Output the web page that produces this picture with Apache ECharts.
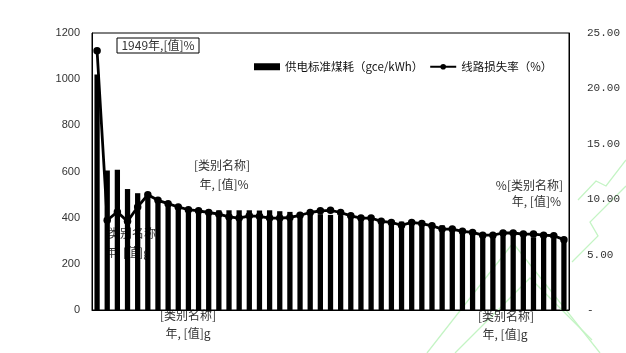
<!DOCTYPE html>
<html><head><meta charset="utf-8">
<script src="https://cdn.jsdelivr.net/npm/echarts@6/dist/echarts.min.js"></script>
<style>html,body{margin:0;padding:0;background:#fff}#c{width:626px;height:353px}</style>
</head><body><div id="c"></div>
<script>
const years = [1949,1952,1957,1962,1965,1970,1975,1978,1980,1981,1982,1983,1984,1985,1986,1987,1988,1989,1990,1991,1992,1993,1994,1995,1996,1997,1998,1999,2000,2001,2002,2003,2004,2005,2006,2007,2008,2009,2010,2011,2012,2013,2014,2015,2016,2017,2018];
const coalUse = [1020,604,608,524,506,508,480,460,445,440,436,434,432,432,432,432,431,432,428,425,421,418,415,412,410,408,404,399,392,386,383,380,376,370,367,356,346,340,334,329,325,321,319,315,312,309,307];
const lineLoss = [23.4,8.1,8.85,8.0,9.3,10.4,9.9,9.6,9.3,9.05,8.95,8.8,8.65,8.4,8.3,8.5,8.45,8.3,8.3,8.35,8.55,8.8,8.95,9.0,8.8,8.5,8.3,8.3,8.0,7.9,7.65,7.9,7.8,7.6,7.3,7.3,7.1,7.0,6.75,6.75,6.95,6.95,6.85,6.85,6.75,6.7,6.35];
const leftTicks = ['0','200','400','600','800','1000','1200'];
const rightTicks = ['-','5.00','10.00','15.00','20.00','25.00'];
const seriesNames = ['供电标准煤耗（gce/kWh）','线路损失率（%）'];

const cjk = '"Noto Sans CJK SC", sans-serif';
function txt(x, y, s, align) {
  return {type:'text', x:x, y:y, z:0, style:{text:s, fill:'#333', font:'12px ' + cjk, textAlign:align||'center', textVerticalAlign:'middle'}};
}
function wm(points) {
  return {type:'polyline', z:0, silent:true, shape:{points:points}, style:{stroke:'#c4f4c4', lineWidth:1.3, fill:null}};
}

const chart = echarts.init(document.getElementById('c'), null, {renderer:'canvas'});
chart.setOption({
  animation:false,
  backgroundColor:'#fff',
  grid:{left:92, right:57, top:33, bottom:43, show:true, borderColor:'#000', borderWidth:1, backgroundColor:'transparent'},
  legend:{
    left:254, top:61, padding:0, itemGap:6, itemWidth:26, itemHeight:7,
    textStyle:{fontFamily:cjk, fontSize:11.5, color:'#111'},
    data:[
      {name:seriesNames[0], icon:'rect', itemStyle:{color:'#000'}},
      {name:seriesNames[1]}
    ]
  },
  xAxis:{type:'category', data:years, boundaryGap:true,
    axisLine:{show:true, lineStyle:{color:'#000'}}, axisTick:{show:false}, axisLabel:{show:false}, splitLine:{show:false}},
  yAxis:[
    {type:'value', min:0, max:1200, interval:200,
      axisLine:{show:true, lineStyle:{color:'#000'}}, axisTick:{show:false}, splitLine:{show:false},
      axisLabel:{margin:12, color:'#333', fontFamily:'"Liberation Sans", Arial, sans-serif', fontSize:11,
        formatter:function(v){ return leftTicks[Math.round(v/200)]; }}},
    {type:'value', min:0, max:25, interval:5, position:'right',
      axisLine:{show:true, lineStyle:{color:'#000'}}, axisTick:{show:false}, splitLine:{show:false},
      axisLabel:{margin:18, color:'#333', fontFamily:'"Liberation Mono", monospace', fontSize:11,
        formatter:function(v){ return rightTicks[Math.round(v/5)]; }}}
  ],
  series:[
    {name:seriesNames[0], type:'bar', yAxisIndex:0, data:coalUse, barWidth:'52%', itemStyle:{color:'#000'}, z:2},
    {name:seriesNames[1], type:'line', yAxisIndex:1, data:lineLoss, symbol:'circle', symbolSize:7.5, showAllSymbol:true,
      lineStyle:{color:'#000', width:2.8}, itemStyle:{color:'#000'}, z:3}
  ],
  graphic:[
    wm([[427,353],[513,243],[600,353]]),
    wm([[455,353],[530,278],[592,340]]),
    wm([[572,262],[598,236],[590,222],[626,186]]),
    wm([[578,200],[596,181],[606,186],[626,160]]),
    {type:'rect', z:0, shape:{x:117, y:38, width:82, height:15}, style:{fill:'#fff', stroke:'#000', lineWidth:1}},
    txt(158, 45.5, '1949年,[值]%'),
    txt(222, 165, '[类别名称]'),
    txt(224, 184, '年, [值]%'),
    txt(104, 233, '[类别名称]', 'left'),
    txt(105, 252, '年, [值]g', 'left'),
    txt(563, 185, '%[类别名称]', 'right'),
    txt(561, 201, '年, [值]%', 'right'),
    txt(188, 315, '[类别名称]'),
    txt(188, 333, '年, [值]g'),
    txt(506, 316, '[类别名称]'),
    txt(505, 334, '年, [值]g')
  ]
});
</script></body></html>
